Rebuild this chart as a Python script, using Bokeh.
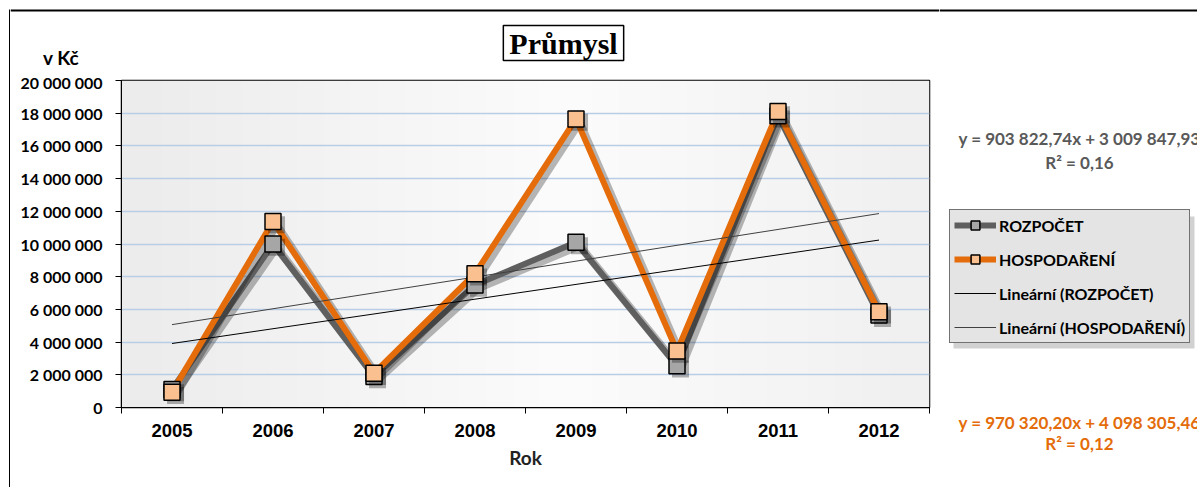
import numpy as np
from bokeh.plotting import figure
from bokeh.layouts import column, row
from bokeh.models import (Label, Legend, LegendItem, FixedTicker,
                          CustomJSTickFormatter, Range1d)
from bokeh.embed import file_html
from bokeh.resources import INLINE

# ---------------- data ----------------
years = [2005, 2006, 2007, 2008, 2009, 2010, 2011, 2012]
rozpocet = [1_100_000, 10_000_000, 1_900_000, 7_500_000, 10_100_000, 2_550_000, 17_850_000, 5_650_000]
hospodareni = [940_000, 11_380_000, 2_100_000, 8_180_000, 17_650_000, 3_450_000, 18_100_000, 5_850_000]
trend_rozpocet = (903822.74, 3009847.93)   # slope, intercept (x = 1..8)
trend_hospodareni = (970320.20, 4098305.46)
eq_rozpocet = "y = 903 822,74x + 3 009 847,93"
r2_rozpocet = "R² = 0,16"
eq_hospodareni = "y = 970 320,20x + 4 098 305,46"
r2_hospodareni = "R² = 0,12"
y_ticks = list(range(0, 20_000_001, 2_000_000))
title_text = "Průmysl"
y_unit = "v Kč"
x_title = "Rok"
series_names = ["ROZPOČET", "HOSPODAŘENÍ", "Lineární (ROZPOČET)", "Lineární (HOSPODAŘENÍ)"]

GRAY, GRAY_M = "#5f5f5f", "#a6a6a6"
ORANGE, ORANGE_M = "#e46c0a", "#fac090"
FRAME_W = 2


def no_align(f):
    if "frame_align" in f.properties():
        f.frame_align = False
    return f


def blank(width, height):
    f = figure(width=width, height=height, output_backend="svg", toolbar_location=None,
               x_range=Range1d(0, width), y_range=Range1d(0, height),
               x_axis_type=None, y_axis_type=None,
               min_border_left=0, min_border_right=0, min_border_top=0, min_border_bottom=0)
    f.outline_line_color = None
    f.xgrid.grid_line_color = None
    f.ygrid.grid_line_color = None
    f.background_fill_color = "white"
    f.border_fill_color = "white"
    return no_align(f)


def lab(f, text, x, y, size, color, font="Lato", **kw):
    l = Label(text=text, x=x, y=y, x_units="screen", y_units="screen",
              text_font=font, text_font_style="bold", text_font_size=size,
              text_color=color, text_align="center", text_baseline="middle", **kw)
    f.add_layout(l)
    return l


# ---------------- left strip (chart-area border) ----------------
L = blank(10, 487)
L.line(x=[9.5, 9.5], y=[0, 477], line_color="black", line_width=FRAME_W)
L.line(x=[8.5, 10], y=[477, 477], line_color="black", line_width=FRAME_W)

# ---------------- top strip (title + unit) ----------------
T = blank(929, 72)
T.line(x=[0, 929], y=[62, 62], line_color="black", line_width=FRAME_W)
lab(T, y_unit, 50.5, 15, "19px", "black")
lab(T, title_text, 557, 25.5, "30px", "black", font="Liberation Serif",
    text_alpha=0, background_fill_color="black", background_fill_alpha=0.22,
    padding=dict(left=6, right=6, top=1, bottom=1))
lab(T, title_text, 553, 29.5, "30px", "black", font="Liberation Serif",
    background_fill_color="white", border_line_color="black", border_line_width=1.5,
    padding=dict(left=6, right=6, top=1, bottom=1))

# ---------------- main chart ----------------
p = figure(width=929, height=415, output_backend="svg", toolbar_location=None,
           x_range=Range1d(2004.5, 2012.5), y_range=Range1d(0, 20_000_000),
           min_border_left=111, min_border_right=10, min_border_top=8, min_border_bottom=80)
no_align(p)
p.outline_line_color = "black"
p.outline_line_width = 1.5
p.background_fill_color = "#f4f4f4"
p.border_fill_color = "white"

n = 60
t = np.linspace(0, 1, n)
shade = np.where(t < 0.55, 236 + (252 - 236) * (t / 0.55), 252 - (252 - 240) * ((t - 0.55) / 0.45))
img = np.zeros((1, n), dtype=np.uint32)
view = img.view(dtype=np.uint8).reshape((1, n, 4))
view[0, :, 0] = shade.astype(np.uint8)
view[0, :, 1] = shade.astype(np.uint8)
view[0, :, 2] = shade.astype(np.uint8)
view[0, :, 3] = 255
p.image_rgba(image=[img], x=2004.5, y=0, dw=8, dh=20_000_000, level="image")

p.xgrid.grid_line_color = None
p.ygrid.ticker = FixedTicker(ticks=y_ticks)
p.ygrid.grid_line_color = "#b9cde5"
p.ygrid.grid_line_width = 1.5

ya = p.yaxis[0]
ya.ticker = FixedTicker(ticks=y_ticks)
ya.formatter = CustomJSTickFormatter(
    code="return Math.round(tick).toString().replace(/\\B(?=(\\d{3})+(?!\\d))/g, ' ');")
ya.major_label_text_font = "Lato"
ya.major_label_text_font_style = "bold"
ya.major_label_text_font_size = "16px"
ya.major_label_text_color = "black"
ya.major_tick_out = 6
ya.major_tick_in = 0
ya.minor_tick_line_color = None
ya.major_label_standoff = 13
ya.axis_line_color = "black"
ya.major_tick_line_color = "black"

xa = p.xaxis[0]
xa.ticker = FixedTicker(ticks=years, minor_ticks=[y - 0.5 for y in years] + [years[-1] + 0.5])
xa.major_tick_line_color = None
xa.minor_tick_line_color = "black"
xa.minor_tick_out = 6
xa.minor_tick_in = 0
xa.major_label_text_font = "Liberation Sans"
xa.major_label_text_font_style = "bold"
xa.major_label_text_font_size = "18.5px"
xa.major_label_text_color = "black"
xa.major_label_standoff = 10
xa.axis_line_color = "black"
xa.axis_label = x_title
xa.axis_label_text_font = "Lato"
xa.axis_label_text_font_style = "bold"
xa.axis_label_text_font_size = "19px"
xa.axis_label_text_color = "#222222"
xa.axis_label_standoff = 6

xs = np.array(years, dtype=float)
r = np.array(rozpocet, dtype=float)
h = np.array(hospodareni, dtype=float)
dx, dy = 0.035, 200_000  # drop-shadow offset

p.line(xs + dx, r - dy, line_color="black", line_alpha=0.28, line_width=8)
p.line(xs, r, line_color=GRAY, line_width=6)
p.line(xs + dx, h - dy, line_color="black", line_alpha=0.28, line_width=8)
p.line(xs, h, line_color=ORANGE, line_width=6)

idx = np.arange(1, len(years) + 1)
tr_r = trend_rozpocet[0] * idx + trend_rozpocet[1]
tr_h = trend_hospodareni[0] * idx + trend_hospodareni[1]
p.line(xs, tr_r, line_color="black", line_width=1)
p.line(xs, tr_h, line_color="#404040", line_width=1)

p.scatter(xs + dx, r - dy, marker="square", size=17, fill_color="black", fill_alpha=0.3, line_color=None)
p.scatter(xs, r, marker="square", size=16, fill_color=GRAY_M, line_color="black", line_width=1.5)
p.scatter(xs + dx, h - dy, marker="square", size=17, fill_color="black", fill_alpha=0.3, line_color=None)
p.scatter(xs, h, marker="square", size=16, fill_color=ORANGE_M, line_color="black", line_width=1.5)

# ---------------- right strip (legend + equations) ----------------
SW, SH = 258, 487
S = blank(SW, SH)
S.line(x=[0, SW], y=[477, 477], line_color="black", line_width=FRAME_W)

LEG_X, LEG_Y, LEG_W, LEG_H = 10, 144, 241, 132
S.quad(left=LEG_X + 4, right=LEG_X + LEG_W + 4, bottom=LEG_Y - 5, top=LEG_Y + LEG_H - 5,
       fill_color="black", fill_alpha=0.18, line_color=None)

nan = np.array([np.nan])
l1 = S.line(x=nan, y=nan, line_color=GRAY, line_width=6)
m1 = S.scatter(x=nan, y=nan, marker="square", size=16, fill_color=GRAY_M, line_color="black", line_width=1.5)
l2 = S.line(x=nan, y=nan, line_color=ORANGE, line_width=6)
m2 = S.scatter(x=nan, y=nan, marker="square", size=16, fill_color=ORANGE_M, line_color="black", line_width=1.5)
l3 = S.line(x=nan, y=nan, line_color="black", line_width=1)
l4 = S.line(x=nan, y=nan, line_color="#404040", line_width=1)
legend = Legend(items=[
    LegendItem(label=series_names[0], renderers=[l1, m1]),
    LegendItem(label=series_names[1], renderers=[l2, m2]),
    LegendItem(label=series_names[2], renderers=[l3]),
    LegendItem(label=series_names[3], renderers=[l4]),
], location=(LEG_X, LEG_Y))
legend.label_text_font = "Lato"
legend.label_text_font_style = "bold"
legend.label_text_font_size = "16px"
legend.label_text_color = "black"
legend.glyph_width = 42
legend.glyph_height = 22
legend.label_height = 22
legend.spacing = 12
legend.padding = 4
legend.margin = 0
legend.label_standoff = 3
legend.background_fill_color = "#e4e4e4"
legend.background_fill_alpha = 1
legend.border_line_color = "black"
legend.border_line_width = 1
S.add_layout(legend, "center")

lab(S, eq_rozpocet, 140, 349, "17px", "#595959")
lab(S, r2_rozpocet, 140, 325, "17px", "#595959")
lab(S, eq_hospodareni, 140, 65, "17px", ORANGE)
lab(S, r2_hospodareni, 140, 44, "17px", ORANGE)

layout = row(L, column(T, p), S)
open("out.html", "w").write(file_html(layout, INLINE))
